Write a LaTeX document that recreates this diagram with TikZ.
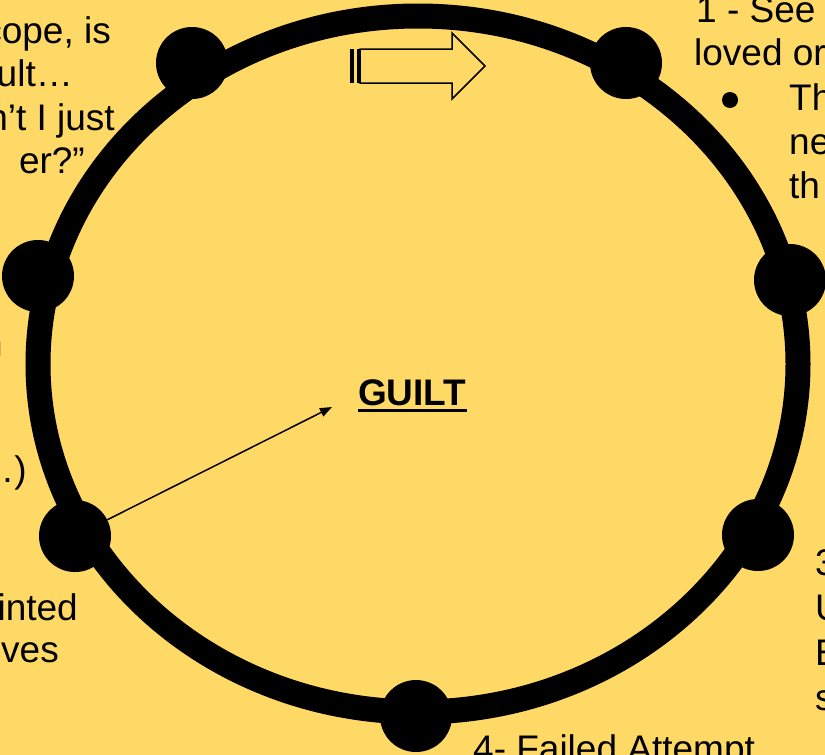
\documentclass[tikz,border=0pt]{standalone}
\usepackage{fontspec}
\setmainfont{Liberation Sans}
\usetikzlibrary{arrows.meta}
\definecolor{bg}{HTML}{FFD966}
\begin{document}
\begin{tikzpicture}[x=1pt,y=-1pt,
  txt/.style={inner sep=0pt, font=\fontsize{37}{44}\selectfont},
  dot/.style={circle, fill=black, minimum size=72pt, inner sep=0pt},
  ring/.style={line width=25pt},
  conn/.style={line width=1.5pt, -{Triangle[length=12pt,width=9pt]}},
  blockarrow/.style={draw=black, line width=1.5pt, fill=bg, line join=miter},
]
\useasboundingbox (0,0) rectangle (825,755);
\fill[bg] (0,0) rectangle (825,755);
\begin{scope}
\clip (0,0) rectangle (825,755);
\draw[ring] (418,364) ellipse [x radius=380, y radius=348];
\node[dot] (d1) at (192,63) {};
\node[dot] (d2) at (626,63) {};
\node[dot] (d3) at (790,280) {};
\node[dot] (d4) at (758,535) {};
\node[dot] (d5) at (416,716) {};
\node[dot] (d6) at (75,536) {};
\node[dot] (d7) at (38,276) {};
% block arrow
\fill (349.5,49) rectangle (353.5,83);
\fill (356.5,49) rectangle (360,83);
\draw[blockarrow] (360,49) -- (452,49) -- (452,33) -- (485,66) -- (452,99) -- (452,83) -- (360,83) -- cycle;
% centre label
\node[txt, font=\fontsize{37}{44}\selectfont\bfseries, anchor=base west] (guilt) at (358,405) {GUILT};
\draw[line width=3pt] ([yshift=-5pt]guilt.base west) -- ([yshift=-5pt]guilt.base east);
\coordinate (gt) at (332,407);
\draw[conn] (d6) -- (gt);
% left texts
\node[txt, anchor=base east] (l1) at (111,43) {cope, is};
\node[txt, anchor=base east] (l2) at (73,86) {ult…};
\node[txt, anchor=base east] (l3) at (115,130) {n’t I just};
\node[txt, anchor=base east] (l4) at (85,173) {er?”};
\node[txt, anchor=base east] (l5) at (3,356) {n};
\node[txt, anchor=base east] (l6) at (27,482) {…)};
\node[txt, anchor=base east] (l7) at (78,620) {inted};
\node[txt, anchor=base east] (l8) at (59,662) {lves};
% top right texts
\node[txt, anchor=base west] (r1) at (696,22) {1 - See};
\node[txt, anchor=base west] (r2) at (694,65) {loved or};
\fill (730,100) circle[radius=8];
\node[txt, anchor=base west] (r3) at (789,110) {Th};
\node[txt, anchor=base west] (r4) at (789,154) {ne};
\node[txt, anchor=base west] (r5) at (789,198) {th};
% bottom right texts
\node[txt, anchor=base west] (b1) at (815,575) {3};
\node[txt, anchor=base west] (b2) at (815,620) {U};
\node[txt, anchor=base west] (b3) at (815,665) {E};
\node[txt, anchor=base west] (b4) at (815,710) {s};
% bottom text
\node[txt, anchor=base west] (f1) at (473,761) {4- Failed Attempt};
\end{scope}
\end{tikzpicture}
\end{document}
